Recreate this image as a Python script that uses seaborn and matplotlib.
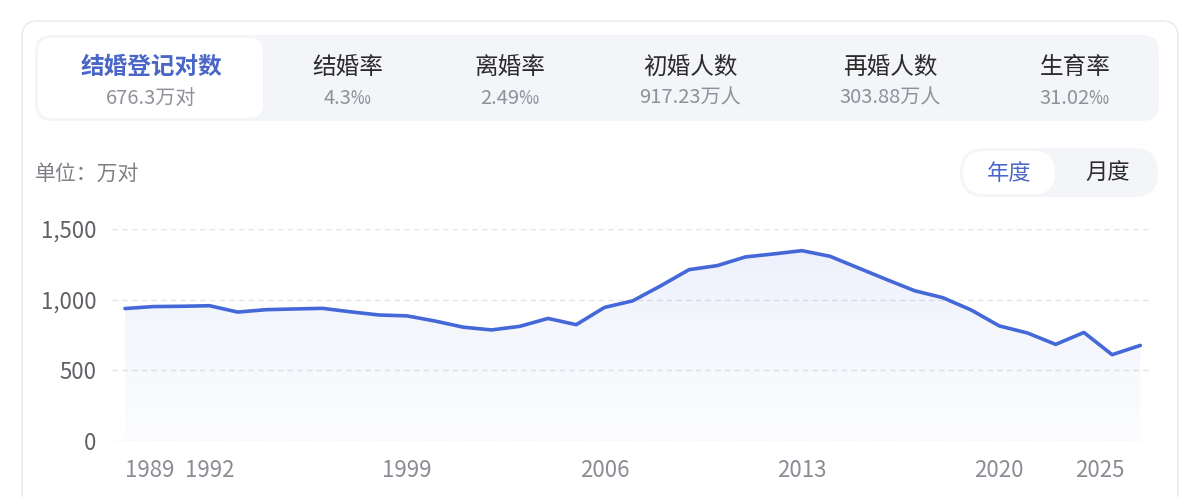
import matplotlib
matplotlib.use("Agg")
import matplotlib.pyplot as plt
from matplotlib.patches import FancyBboxPatch
from matplotlib.colors import LinearSegmentedColormap
import matplotlib.transforms as mtransforms
import numpy as np
import pandas as pd
import seaborn as sns

# ─── dados ────────────────────────────────────────────────────────────────────
years = list(range(1989, 2026))
marriages = [937.2, 951.1, 953.2, 957.1, 912.1, 929.2, 934.1, 938.7, 914.1, 891.7,
             885.3, 848.5, 805.0, 786.0, 811.4, 867.2, 823.1, 945.0, 991.4, 1098.3,
             1212.4, 1241.0, 1302.4, 1323.6, 1346.9, 1306.7, 1224.7, 1142.8, 1063.1,
             1013.9, 927.3, 814.3, 764.3, 683.5, 768.0, 610.6, 676.3]
tick_years = [1989, 1992, 1999, 2006, 2013, 2020, 2025]
y_ticks = [0, 500, 1000, 1500]

tab_titles = ["结婚登记对数", "结婚率", "离婚率", "初婚人数", "再婚人数", "生育率"]
tab_values = ["676.3万对", "4.3‰", "2.49‰", "917.23万人", "303.88万人", "31.02‰"]
tab_centers = [151, 348, 510, 690, 890, 1075]

df = pd.DataFrame({"year": years, "count": marriages})

LINE = "#4468d8"
W, H = 1200, 497

sns.set_theme(style="white")
plt.rcParams["font.family"] = ["Noto Sans CJK SC", "DejaVu Sans"]

fig = plt.figure(figsize=(W / 100, H / 100), dpi=100)
fig.patch.set_facecolor("white")

# camada de fundo em pixels
bg = fig.add_axes([0, 0, 1, 1], zorder=0)
bg.set_xlim(0, W)
bg.set_ylim(H, 0)
bg.axis("off")


def rbox(x0, y0, x1, y1, r, fc, ec="none", lw=0):
    bg.add_patch(FancyBboxPatch((x0, y0), x1 - x0, y1 - y0,
                                boxstyle=f"round,pad=0,rounding_size={r}",
                                fc=fc, ec=ec, lw=lw))


# cartão
rbox(22, 21, 1178, 540, 16, "white", "#ececee", 1.2)
# abas
rbox(35, 35, 1159, 121, 16, "#f3f5f9")
rbox(38, 38, 263, 118, 14, "white")
for i, (t, v, cx) in enumerate(zip(tab_titles, tab_values, tab_centers)):
    active = i == 0
    bg.text(cx, 67, t, ha="center", va="center", fontsize=17,
            color="#4a67c8" if active else "#2b2b2b",
            fontweight="bold" if active else "normal")
    bg.text(cx, 98, v, ha="center", va="center", fontsize=14.5, color="#8e9198")

bg.text(35, 174, "单位：万对", ha="left", va="center", fontsize=15, color="#7d7f85")

# seletor ano/mês
rbox(960, 148, 1158, 197, 24, "#f3f5f9")
rbox(963, 151, 1055, 194, 21, "white")
bg.text(1009, 173, "年度", ha="center", va="center", fontsize=16, color="#4a67c8")
bg.text(1108, 173, "月度", ha="center", va="center", fontsize=16, color="#2b2b2b")

# ─── gráfico ──────────────────────────────────────────────────────────────────
left, right, top, bottom = 112, 1153, 229, 441
ax = fig.add_axes([left / W, 1 - bottom / H, (right - left) / W, (bottom - top) / H],
                  zorder=1)
ax.patch.set_alpha(0)

sns.lineplot(data=df, x="year", y="count", ax=ax, color=LINE, lw=2.6,
             solid_joinstyle="round", solid_capstyle="round", zorder=3)

# preenchimento em degradê
poly = ax.fill_between(df["year"], df["count"], 0, color="none", lw=0)
cmap = LinearSegmentedColormap.from_list(
    "fade", [(0.27, 0.41, 0.85, 0.015), (0.27, 0.41, 0.85, 0.10)])
grad = np.linspace(0, 1, 256).reshape(-1, 1)
img = ax.imshow(grad, cmap=cmap, aspect="auto", origin="lower",
                extent=[years[0], years[-1], 0, 1500], zorder=2)
img.set_clip_path(poly.get_paths()[0], transform=ax.transData)

ax.set_xlim(years[0] - 0.46, years[-1] + 0.45)
ax.set_ylim(0, 1500)
ax.set_yticks(y_ticks)
ax.set_yticklabels([f"{v:,}" for v in y_ticks])
ax.set_xticks(tick_years)
ax.set_xticklabels([str(y) for y in tick_years])
ax.set_xlabel("")
ax.set_ylabel("")
for s in ax.spines.values():
    s.set_visible(False)
ax.grid(False)
for v in y_ticks:
    ax.axhline(v, color="#e3e4e8", lw=1.0, dashes=(4, 3), zorder=1)

ax.tick_params(axis="y", length=0, pad=11, labelsize=16, labelcolor="#5f6166")
ax.tick_params(axis="x", length=0, pad=13, labelsize=16, labelcolor="#8a8d94")

xlabels = ax.get_xticklabels()
xlabels[0].set_ha("left")
xlabels[-1].set_ha("right")
xlabels[-1].set_transform(xlabels[-1].get_transform()
                          + mtransforms.ScaledTranslation(-0.16, 0, fig.dpi_scale_trans))

fig.savefig("out.png", dpi=100)
